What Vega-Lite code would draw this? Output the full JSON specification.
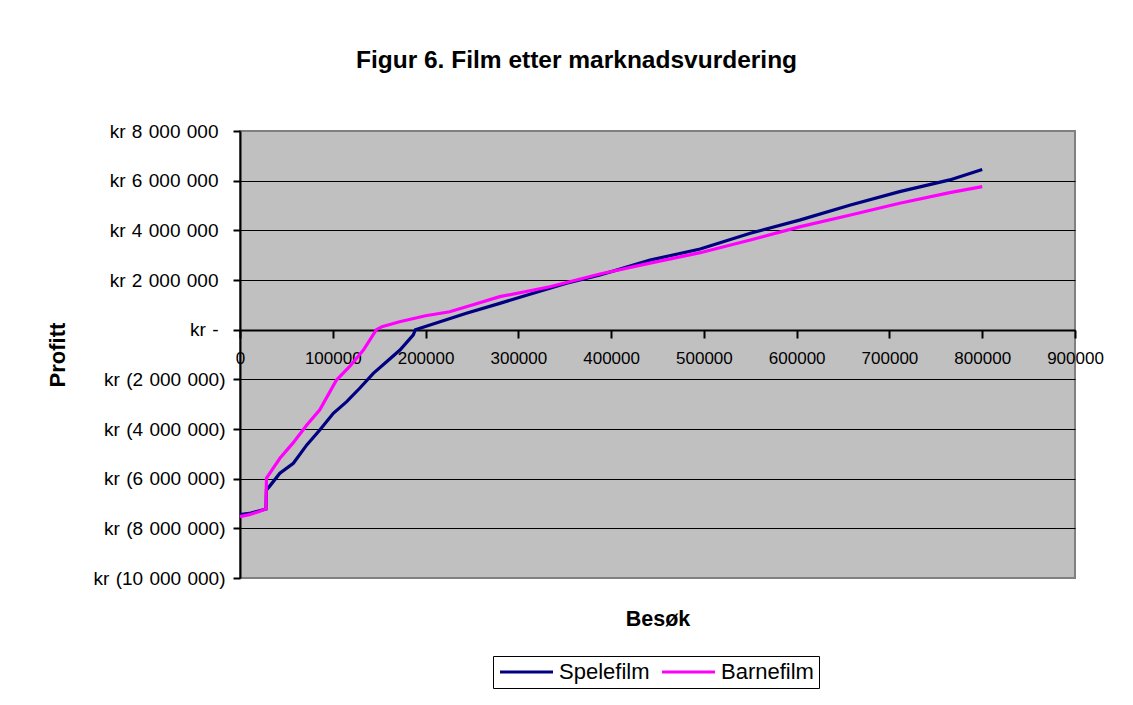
{
  "$schema": "https://vega.github.io/schema/vega-lite/v6.json",
  "width": 835,
  "height": 447,
  "autosize": {"type": "none"},
  "padding": {"left": 240, "top": 131, "right": 58, "bottom": 127},
  "background": "white",
  "title": {
    "text": "Figur 6. Film etter marknadsvurdering",
    "font": "Liberation Sans",
    "fontSize": 24.5,
    "fontWeight": "bold",
    "color": "black",
    "anchor": "middle",
    "dx": -81,
    "offset": 49
  },
  "data": {
    "values": [
      {"serie": "Spelefilm", "besok": 0, "profitt": -7450000},
      {"serie": "Spelefilm", "besok": 10000, "profitt": -7400000},
      {"serie": "Spelefilm", "besok": 20000, "profitt": -7300000},
      {"serie": "Spelefilm", "besok": 28000, "profitt": -7220000},
      {"serie": "Spelefilm", "besok": 28500, "profitt": -6450000},
      {"serie": "Spelefilm", "besok": 31600, "profitt": -6320000},
      {"serie": "Spelefilm", "besok": 43000, "profitt": -5780000},
      {"serie": "Spelefilm", "besok": 57500, "profitt": -5380000},
      {"serie": "Spelefilm", "besok": 72000, "profitt": -4640000},
      {"serie": "Spelefilm", "besok": 86000, "profitt": -4040000},
      {"serie": "Spelefilm", "besok": 100600, "profitt": -3370000},
      {"serie": "Spelefilm", "besok": 115000, "profitt": -2900000},
      {"serie": "Spelefilm", "besok": 129000, "profitt": -2360000},
      {"serie": "Spelefilm", "besok": 143700, "profitt": -1760000},
      {"serie": "Spelefilm", "besok": 158000, "profitt": -1290000},
      {"serie": "Spelefilm", "besok": 172400, "profitt": -820000},
      {"serie": "Spelefilm", "besok": 186800, "profitt": -210000},
      {"serie": "Spelefilm", "besok": 189000, "profitt": 0},
      {"serie": "Spelefilm", "besok": 204800, "profitt": 190000},
      {"serie": "Spelefilm", "besok": 244000, "profitt": 660000},
      {"serie": "Spelefilm", "besok": 280000, "profitt": 1060000},
      {"serie": "Spelefilm", "besok": 316000, "profitt": 1470000},
      {"serie": "Spelefilm", "besok": 352000, "profitt": 1870000},
      {"serie": "Spelefilm", "besok": 388000, "profitt": 2200000},
      {"serie": "Spelefilm", "besok": 424000, "profitt": 2600000},
      {"serie": "Spelefilm", "besok": 442000, "profitt": 2800000},
      {"serie": "Spelefilm", "besok": 496000, "profitt": 3250000},
      {"serie": "Spelefilm", "besok": 550000, "profitt": 3880000},
      {"serie": "Spelefilm", "besok": 604000, "profitt": 4420000},
      {"serie": "Spelefilm", "besok": 658000, "profitt": 5020000},
      {"serie": "Spelefilm", "besok": 711000, "profitt": 5560000},
      {"serie": "Spelefilm", "besok": 765000, "profitt": 6030000},
      {"serie": "Spelefilm", "besok": 800000, "profitt": 6450000},
      {"serie": "Barnefilm", "besok": 0, "profitt": -7530000},
      {"serie": "Barnefilm", "besok": 10000, "profitt": -7450000},
      {"serie": "Barnefilm", "besok": 20000, "profitt": -7330000},
      {"serie": "Barnefilm", "besok": 28000, "profitt": -7220000},
      {"serie": "Barnefilm", "besok": 28500, "profitt": -5980000},
      {"serie": "Barnefilm", "besok": 43000, "profitt": -5180000},
      {"serie": "Barnefilm", "besok": 57000, "profitt": -4570000},
      {"serie": "Barnefilm", "besok": 72000, "profitt": -3840000},
      {"serie": "Barnefilm", "besok": 86000, "profitt": -3230000},
      {"serie": "Barnefilm", "besok": 104000, "profitt": -2030000},
      {"serie": "Barnefilm", "besok": 118000, "profitt": -1490000},
      {"serie": "Barnefilm", "besok": 133000, "profitt": -820000},
      {"serie": "Barnefilm", "besok": 147000, "profitt": 0},
      {"serie": "Barnefilm", "besok": 153000, "profitt": 120000},
      {"serie": "Barnefilm", "besok": 172000, "profitt": 320000},
      {"serie": "Barnefilm", "besok": 200000, "profitt": 560000},
      {"serie": "Barnefilm", "besok": 226000, "profitt": 720000},
      {"serie": "Barnefilm", "besok": 253000, "profitt": 1020000},
      {"serie": "Barnefilm", "besok": 280000, "profitt": 1330000},
      {"serie": "Barnefilm", "besok": 334000, "profitt": 1730000},
      {"serie": "Barnefilm", "besok": 388000, "profitt": 2240000},
      {"serie": "Barnefilm", "besok": 442000, "profitt": 2680000},
      {"serie": "Barnefilm", "besok": 496000, "profitt": 3100000},
      {"serie": "Barnefilm", "besok": 550000, "profitt": 3610000},
      {"serie": "Barnefilm", "besok": 604000, "profitt": 4150000},
      {"serie": "Barnefilm", "besok": 658000, "profitt": 4620000},
      {"serie": "Barnefilm", "besok": 711000, "profitt": 5090000},
      {"serie": "Barnefilm", "besok": 765000, "profitt": 5520000},
      {"serie": "Barnefilm", "besok": 800000, "profitt": 5760000}
    ]
  },
  "mark": {"type": "line", "strokeWidth": 3.2},
  "encoding": {
    "x": {
      "field": "besok",
      "type": "quantitative",
      "scale": {"domain": [0, 900000], "nice": false, "zero": false},
      "axis": {
        "title": "Besøk",
        "values": [0, 100000, 200000, 300000, 400000, 500000, 600000, 700000, 800000, 900000],
        "format": "d",
        "offset": -248,
        "grid": false,
        "domainColor": "black",
        "domainWidth": 2,
        "tickColor": "black",
        "tickWidth": 2,
        "tickSize": 8,
        "labelFont": "Liberation Sans",
        "labelFontSize": 17,
        "labelColor": "black",
        "labelPadding": 12,
        "labelFlush": false,
        "labelOverlap": false,
        "titleFont": "Liberation Sans",
        "titleFontSize": 21.5,
        "titleFontWeight": "bold",
        "titleColor": "black",
        "titleX": 417.5,
        "titleY": 295,
        "titleBaseline": "alphabetic",
        "titleAlign": "center"
      }
    },
    "y": {
      "field": "profitt",
      "type": "quantitative",
      "scale": {"domain": [-10000000, 8000000], "nice": false, "zero": false},
      "axis": {
        "title": "Profitt",
        "values": [-10000000, -8000000, -6000000, -4000000, -2000000, 0, 2000000, 4000000, 6000000, 8000000],
        "labelExpr": "datum.value == 0 ? 'kr\u2004-' : (datum.value < 0 ? 'kr\u2004(' + replace(replace(format(-datum.value, ','), ',', '\u2004'), ',', '\u2004') + ')' : 'kr\u2004' + replace(replace(format(datum.value, ','), ',', '\u2004'), ',', '\u2004'))",
        "grid": true,
        "gridColor": {"condition": {"test": "datum.value == 8000000 || datum.value == -10000000", "value": "#808080"}, "value": "black"},
        "gridWidth": 1,
        "domainColor": "black",
        "domainWidth": 2,
        "tickColor": "black",
        "tickWidth": 2,
        "tickSize": 7,
        "labelPadding": {"condition": {"test": "datum.value >= 0", "value": 15}, "value": 8},
        "labelFont": "Liberation Sans",
        "labelFontSize": 19,
        "labelColor": "black",
        "labelOverlap": false,
        "titleFont": "Liberation Sans",
        "titleFontSize": 22,
        "titleFontWeight": "bold",
        "titleColor": "black",
        "titleAngle": -90,
        "titleX": -176,
        "titleY": 223.5,
        "titleBaseline": "alphabetic",
        "titleAlign": "center"
      }
    },
    "color": {
      "field": "serie",
      "type": "nominal",
      "scale": {"domain": ["Spelefilm", "Barnefilm"], "range": ["#000080", "#FF00FF"]},
      "legend": {
        "title": null,
        "orient": "none",
        "legendX": 253,
        "legendY": 525,
        "direction": "horizontal",
        "symbolType": "stroke",
        "symbolSize": 2809,
        "symbolStrokeWidth": 3.2,
        "clipHeight": 22,
        "labelFont": "Liberation Sans",
        "labelFontSize": 22,
        "labelColor": "black",
        "strokeColor": "black",
        "fillColor": "white",
        "padding": 5,
        "columnPadding": 10,
        "labelOffset": 4
      }
    }
  },
  "config": {
    "view": {"fill": "#C0C0C0", "stroke": "#808080", "strokeWidth": 2}
  }
}
